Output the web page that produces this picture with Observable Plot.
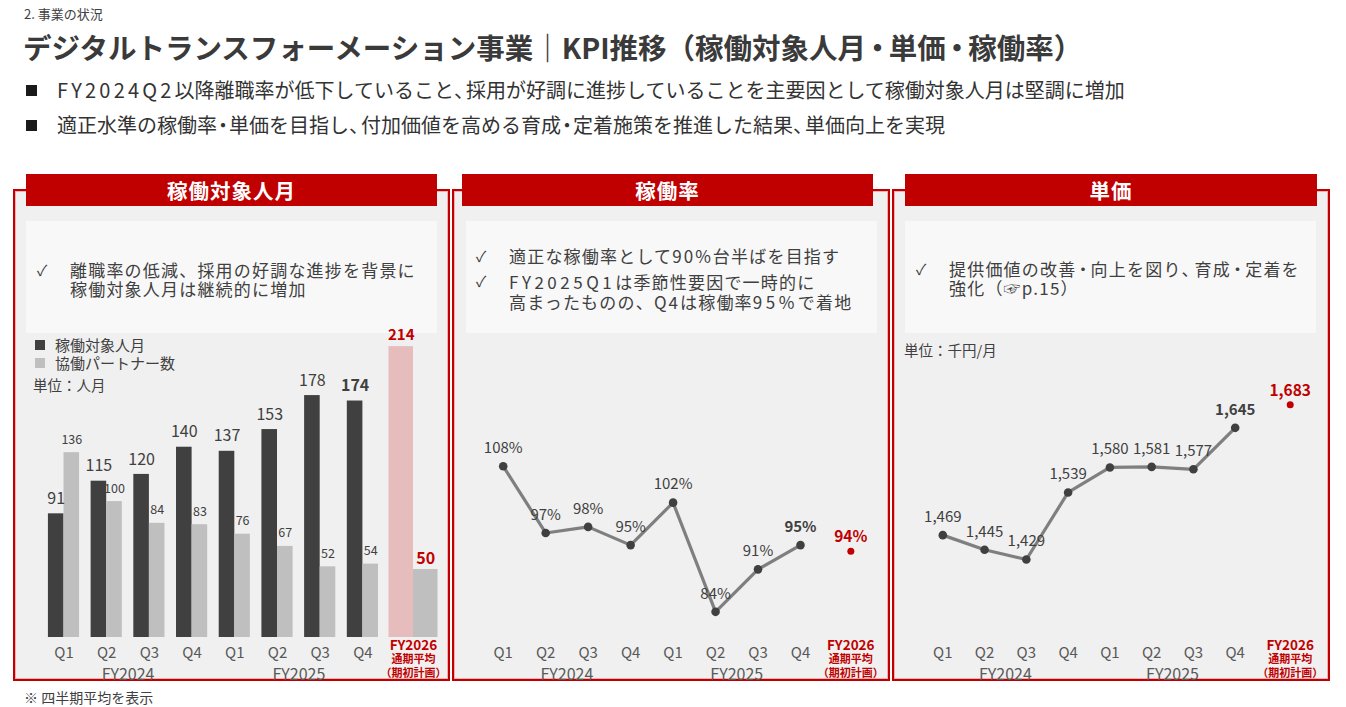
<!DOCTYPE html>
<html><head><meta charset="utf-8">
<script src="https://cdn.jsdelivr.net/npm/d3@7"></script>
<script src="https://cdn.jsdelivr.net/npm/@observablehq/plot@0.6"></script>
<style>
body{margin:0;background:#fff;font-family:"Noto Sans CJK JP","Noto Sans",sans-serif;color:#404040;}
#page{position:relative;width:1346px;height:707px;overflow:hidden;}
.abs{position:absolute;white-space:nowrap;}
.panel{position:absolute;top:189px;height:488px;width:433px;background:#f0f0f0;border:2px solid #c00000;box-shadow:inset 0 0 0 1px #f0b0b0;}
.hdr{position:absolute;top:174px;height:32px;background:#c00000;color:#fff;font-weight:bold;font-size:20.5px;text-align:center;line-height:32px;letter-spacing:1px;}
.box{position:absolute;top:221px;height:112px;background:#f8f8f8;}
.chk{position:absolute;font-size:15px;line-height:20px;color:#404040;}
.btxt{position:absolute;white-space:nowrap;font-size:17px;letter-spacing:1.2px;color:#404040;}
.lat{letter-spacing:3.5px;}
.dot8{margin:0 -4px;}
.dot6{margin:0 -3px;}
.dot4{margin:0 -2px;}
.cm8{letter-spacing:-8px;}
.cm4{letter-spacing:-4px;}
.chart{position:absolute;top:320px;}
.leg{position:absolute;font-size:15px;line-height:20px;white-space:nowrap;color:#404040;}
</style>
</head>
<body>
<div id="page">
  <div class="abs" style="left:24px;top:4px;font-size:13px;line-height:20px;color:#404040">2. 事業の状況</div>
  <div class="abs" style="left:23px;top:27px;font-size:28.5px;line-height:40px;font-weight:bold;color:#3a3a3a">デジタルトランスフォーメーション事業｜KPI推移（稼働対象人月<span class="dot6">・</span>単価<span class="dot6">・</span>稼働率）</div>
  <div class="abs" style="left:26px;top:85px;width:11px;height:11px;background:#1a1a1a"></div>
  <div class="abs" style="left:57px;top:76px;font-size:20px;line-height:28px;color:#333"><span style="letter-spacing:3.2px">FY2024Q2</span>以降離職率が低下していること<span class="cm8">、</span>採用が好調に進捗していることを主要因として稼働対象人月は堅調に増加</div>
  <div class="abs" style="left:26px;top:120px;width:11px;height:11px;background:#1a1a1a"></div>
  <div class="abs" style="left:57px;top:111px;font-size:20px;line-height:28px;color:#333">適正水準の稼働率<span class="dot8">・</span>単価を目指し<span class="cm8">、</span>付加価値を高める育成<span class="dot8">・</span>定着施策を推進した結果<span class="cm8">、</span>単価向上を実現</div>

  <div class="panel" style="left:13px"></div>
  <div class="panel" style="left:452px;width:434px"></div>
  <div class="panel" style="left:892px;width:434px"></div>

  <div class="hdr" style="left:26px;width:411px">稼働対象人月</div>
  <div class="hdr" style="left:462px;width:411px">稼働率</div>
  <div class="hdr" style="left:905px;width:412px">単価</div>

  <div class="box" style="left:26px;width:411px"></div>
  <div class="box" style="left:466px;width:411px"></div>
  <div class="box" style="left:905px;width:411px"></div>

  <div class="chk" style="left:37px;top:260px">✓</div>
  <div class="btxt" style="left:70px;top:261px;line-height:18px">離職率の低減、採用の好調な進捗を背景に</div>
  <div class="btxt" style="left:70px;top:279.5px;line-height:18px">稼働対象人月は継続的に増加</div>

  <div class="chk" style="left:476px;top:246px">✓</div>
  <div class="btxt" style="left:509px;top:247px;line-height:18px">適正な稼働率として<span class="lat" style="letter-spacing:2px">90%</span>台半ばを目指す</div>
  <div class="chk" style="left:476px;top:271px">✓</div>
  <div class="btxt" style="left:509px;top:273px;line-height:18px"><span class="lat">FY2025Q1</span>は季節性要因で一時的に</div>
  <div class="btxt" style="left:509px;top:293px;line-height:18px">高まったものの、<span class="lat" style="letter-spacing:2px">Q4</span>は稼働率<span class="lat">95%</span>で着地</div>

  <div class="chk" style="left:916px;top:259px">✓</div>
  <div class="btxt" style="left:949px;top:260px;line-height:18px">提供価値の改善<span class="dot4">・</span>向上を図り<span class="cm4">、</span>育成<span class="dot4">・</span>定着を</div>
  <div class="btxt" style="left:949px;top:279px;line-height:18px">強化（☞p.15）</div>

  <div class="abs" style="left:35px;top:340px;width:10px;height:10px;background:#404040"></div>
  <div class="leg" style="left:55px;top:335px">稼働対象人月</div>
  <div class="abs" style="left:35px;top:358px;width:10px;height:10px;background:#bfbfbf"></div>
  <div class="leg" style="left:55px;top:353px">協働パートナー数</div>
  <div class="leg" style="left:33px;top:375px;font-size:14.5px">単位：人月</div>
  <div class="leg" style="left:904px;top:340px;font-size:14.5px">単位：千円/月</div>

  <div id="c1" class="chart" style="left:13px"></div>
  <div id="c2" class="chart" style="left:452px"></div>
  <div id="c3" class="chart" style="left:892px"></div>

  <div class="abs" style="left:24px;top:687px;font-size:14px;line-height:20px;color:#404040">※ 四半期平均を表示</div>
</div>
<script>
// ---- data ----
const quarters = ["Q1","Q2","Q3","Q4","Q1","Q2","Q3","Q4"];
const fiscalYears = ["FY2024","FY2025"];
const planLabels = ["FY2026","通期平均","（期初計画）"];
const personMonths = [91,115,120,140,137,153,178,174];
const partners = [136,100,84,83,76,67,52,54];
const planPersonMonths = 214;
const planPartners = 50;
const utilization = [108,97,98,95,102,84,91,95];
const planUtilization = 94;
const unitPrice = [1469,1445,1429,1539,1580,1581,1577,1645];
const planUnitPrice = 1683;

// ---- common ----
const RED = "#c00000", DARK = "#404040", LIGHT = "#bfbfbf", AXIS = "#595959";
const W = 437, H = 362, MB = 45;
const font = '"Noto Sans CJK JP","Noto Sans",sans-serif';
const idx = d3.range(quarters.length);
const lastI = quarters.length - 1;

function commonMarks(planPos) {
  const t = {frameAnchor: "bottom", lineAnchor: "middle", text: d => d};
  return [
    Plot.axisX(idx, {tickFormat: i => quarters[i], tickSize: 0, tickPadding: 10, fontSize: 15, color: AXIS, label: null}),
    Plot.text(fiscalYears, {...t, x: (d, i) => i * 4 + 1.5, dy: 37, fontSize: 16, fill: AXIS}),
    Plot.text([planLabels[0]], {...t, x: () => planPos, dy: 8, fontSize: 13.5, fontWeight: "bold", fill: RED}),
    Plot.text([planLabels[1]], {...t, x: () => planPos, dy: 22, fontSize: 11, fontWeight: "bold", fill: RED}),
    Plot.text([planLabels[2]], {...t, x: () => planPos, dy: 35.5, fontSize: 11, fontWeight: "bold", fill: RED})
  ];
}
const baseOpts = {
  width: W, height: H, marginTop: 0, marginBottom: MB, marginLeft: 0, marginRight: 0,
  style: {background: "transparent", overflow: "visible", fontFamily: font, color: DARK}
};

// ---- panel 1: bars ----
{
  const half = 0.365, planHalf = 0.574, planPos = 8.185;
  const rows = idx.map(i => ({i, pm: personMonths[i], pt: partners[i]}));
  const plan = [{pm: planPersonMonths, pt: planPartners}];
  const chart = Plot.plot({
    ...baseOpts,
    x: {type: "linear", domain: [0, 7], range: [50.5, 349.4], axis: null},
    y: {domain: [0, 220], range: [317, 18], axis: null},
    marks: [
      Plot.rect(rows, {x1: d => d.i - half, x2: d => d.i, y1: 0, y2: "pm", fill: DARK}),
      Plot.rect(rows, {x1: d => d.i, x2: d => d.i + half, y1: 0, y2: "pt", fill: LIGHT}),
      Plot.rect(plan, {x1: planPos - planHalf, x2: planPos, y1: 0, y2: "pm", fill: "#e6bcbc"}),
      Plot.rect(plan, {x1: planPos, x2: planPos + planHalf, y1: 0, y2: "pt", fill: LIGHT}),
      Plot.text(rows.filter(d => d.i < lastI), {x: d => d.i - half / 2, y: "pm", text: d => d.pm, dy: -15, fontSize: 16, fill: DARK}),
      Plot.text(rows.filter(d => d.i === lastI), {x: d => d.i - half / 2, y: "pm", text: d => d.pm, dy: -15, fontSize: 16, fontWeight: "bold", fill: DARK}),
      Plot.text(rows, {x: d => d.i + half / 2, y: "pt", text: d => d.pt, dy: -13, fontSize: 12.5, fill: DARK}),
      Plot.text(plan, {x: planPos - planHalf / 2, y: "pm", text: d => d.pm, dy: -11, fontSize: 15, fontWeight: "bold", fill: RED}),
      Plot.text(plan, {x: planPos + planHalf / 2, y: "pt", text: d => d.pt, dy: -11, fontSize: 16, fontWeight: "bold", fill: RED}),
      ...commonMarks(planPos)
    ]
  });
  document.getElementById("c1").append(chart);
}

// ---- line panels ----
function linePanel(el, values, planValue, fmt, xRange, yDomain, yRange, planPos) {
  const rows = idx.map(i => ({i, v: values[i]}));
  const plan = [{v: planValue}];
  const chart = Plot.plot({
    ...baseOpts,
    x: {type: "linear", domain: [0, 7], range: xRange, axis: null},
    y: {domain: yDomain, range: yRange, axis: null},
    marks: [
      Plot.line(rows, {x: "i", y: "v", stroke: "#7f7f7f", strokeWidth: 3.2}),
      Plot.dot(rows, {x: "i", y: "v", r: 4.3, fill: DARK}),
      Plot.text(rows.filter(d => d.i < lastI), {x: "i", y: "v", text: d => fmt(d.v), dy: -18, fontSize: 15, fill: DARK}),
      Plot.text(rows.filter(d => d.i === lastI), {x: "i", y: "v", text: d => fmt(d.v), dy: -18, fontSize: 15, fontWeight: "bold", fill: DARK}),
      Plot.dot(plan, {x: () => planPos, y: "v", r: 3.5, fill: RED}),
      Plot.text(plan, {x: () => planPos, y: "v", text: d => fmt(d.v), dy: -14, fontSize: 15.5, fontWeight: "bold", fill: RED}),
      ...commonMarks(planPos)
    ]
  });
  document.getElementById(el).append(chart);
}
linePanel("c2", utilization, planUtilization, v => v + "%", [50.7, 348], [80, 110], [315.6, 133.6], 8.185);
linePanel("c3", unitPrice, planUnitPrice, d3.format(","), [50.3, 342.7], [1400, 1700], [256.7, 73.8], 8.317);
</script>
</body></html>
